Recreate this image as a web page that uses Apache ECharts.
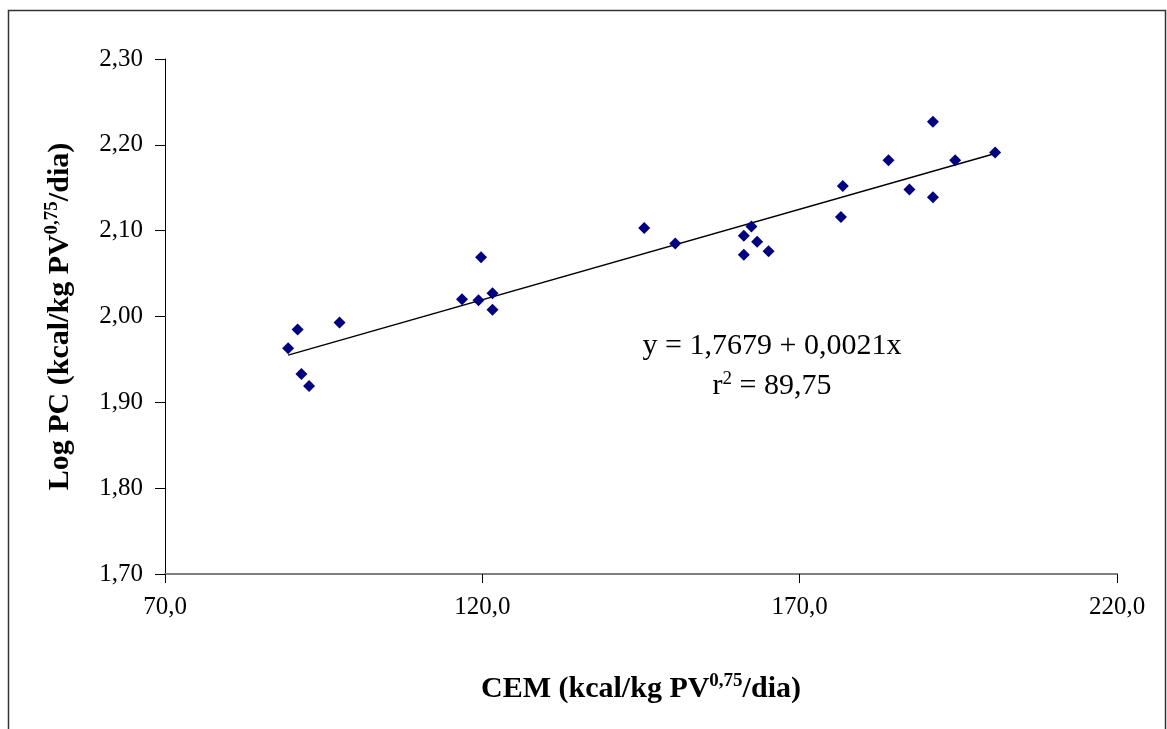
<!DOCTYPE html>
<html>
<head>
<meta charset="utf-8">
<script src="https://cdn.jsdelivr.net/npm/echarts@6/dist/echarts.min.js"></script>
<style>html,body{margin:0;padding:0;background:#fff}#c{width:1167px;height:729px}</style>
</head>
<body>
<div id="c"></div>
<script>
// CEM (kcal/kg PV^0,75/dia) values
const cemValues = [89.4, 90.9, 91.5, 92.7, 97.5, 116.8, 119.4, 119.8, 121.6, 121.6,
  145.5, 150.4, 161.2, 161.2, 162.4, 163.3, 165.1, 176.8, 176.5, 184.0,
  187.3, 191.0, 191.0, 194.5, 200.8];
// Log PC values
const logPcValues = [1.963, 1.985, 1.933, 1.919, 1.993, 2.020, 2.019, 2.069, 2.027, 2.008,
  2.103, 2.085, 2.094, 2.072, 2.105, 2.087, 2.076, 2.152, 2.116, 2.182,
  2.148, 2.227, 2.139, 2.182, 2.191];
// Trend line endpoints (y = 1,7679 + 0,0021x)
const trendX = [89.4, 200.8];
const trendY = [1.955, 2.190];
const xTicks = [70, 120, 170, 220];
const yTicks = [1.7, 1.8, 1.9, 2.0, 2.1, 2.2, 2.3];
const equationText = 'y = 1,7679 + 0,0021x';
const r2Text = '89,75';

const points = cemValues.map((x, i) => [x, logPcValues[i]]);
const trend = trendX.map((x, i) => [x, trendY[i]]);
const FONT = '"Liberation Serif", "Times New Roman", serif';

const titleRich = {
  b: { fontFamily: FONT, fontSize: 30, fontWeight: 'bold', color: '#000' },
  s: { fontFamily: FONT, fontSize: 19, fontWeight: 'bold', color: '#000', verticalAlign: 'top', padding: [0, 0, 15, 0] }
};

const chart = echarts.init(document.getElementById('c'));
chart.setOption({
  animation: false,
  backgroundColor: '#fff',
  grid: { left: 165, right: 50, top: 59, bottom: 155 },
  xAxis: {
    type: 'value', min: xTicks[0], max: xTicks[xTicks.length - 1], interval: 50,
    splitLine: { show: false },
    axisLine: { lineStyle: { color: '#808080', width: 2 } },
    axisTick: { show: true, length: 9, lineStyle: { color: '#000', width: 1 } },
    axisLabel: { fontFamily: FONT, fontSize: 25, color: '#000', margin: 21,
      formatter: v => v.toFixed(1).replace('.', ',') },
    name: '{b|CEM (kcal/kg PV}{s|0,75}{b|/dia)}',
    nameLocation: 'middle', nameGap: 98,
    nameTextStyle: { rich: titleRich }
  },
  yAxis: {
    type: 'value', min: yTicks[0], max: yTicks[yTicks.length - 1], interval: 0.1,
    splitLine: { show: false },
    axisLine: { show: true, lineStyle: { color: '#000', width: 1 } },
    axisTick: { show: true, length: 10, lineStyle: { color: '#000', width: 1 } },
    axisLabel: { fontFamily: FONT, fontSize: 25, color: '#000', margin: 22,
      formatter: v => v.toFixed(2).replace('.', ',') },
    name: '{b|Log PC (kcal/kg PV}{s|0,75}{b|/dia)}',
    nameLocation: 'middle', nameGap: 88, nameRotate: 90,
    nameTextStyle: { rich: titleRich }
  },
  series: [
    {
      type: 'line', data: trend, symbol: 'none', silent: true,
      lineStyle: { color: '#000', width: 1.5 }, z: 2
    },
    {
      type: 'scatter', data: points, symbol: 'diamond', symbolSize: 12,
      itemStyle: { color: '#000080', opacity: 1 }, z: 3
    }
  ],
  graphic: [
    { type: 'rect', shape: { x: 8.5, y: 10.5, width: 1157, height: 740 },
      style: { fill: 'none', stroke: '#333', lineWidth: 1.5 }, silent: true },
    { type: 'text', x: 772, y: 346,
      style: { text: equationText, font: '30px ' + FONT, fill: '#000', align: 'center', verticalAlign: 'middle' } },
    { type: 'text', x: 772, y: 386,
      style: { text: '{a|r}{s|2}{a| = ' + r2Text + '}', align: 'center', verticalAlign: 'middle',
        rich: { a: { font: '30px ' + FONT, fill: '#000' },
                s: { font: '19px ' + FONT, fill: '#000', verticalAlign: 'top', padding: [0, 0, 14, 0] } } } }
  ]
});
</script>
</body>
</html>
